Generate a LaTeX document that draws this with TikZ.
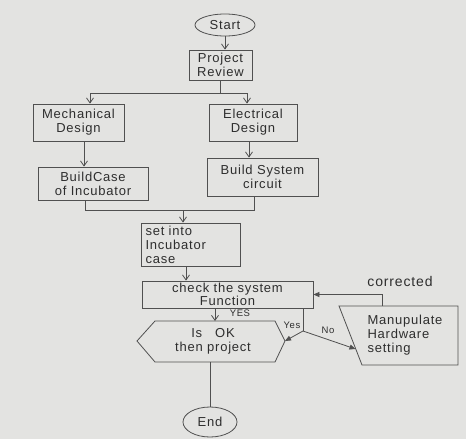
\documentclass[tikz,border=0pt]{standalone}
\usepackage{fontspec}
\setmainfont{Liberation Sans}
\newfontfamily\hand[LetterSpace=6]{Liberation Sans}
\usetikzlibrary{arrows.meta,shapes.geometric,calc}
\definecolor{paper}{HTML}{E3E3E1}
\definecolor{ink}{HTML}{505050}
\definecolor{pen}{HTML}{2E2E2E}
\begin{document}
\begin{tikzpicture}[x=1pt,y=-1pt, line width=0.8pt,
  box/.style={draw=ink, rectangle, inner sep=0pt, text=pen, font=\hand\fontsize{13}{14}\selectfont, align=center},
  txt/.style={text=pen, inner sep=0pt, font=\hand\fontsize{13}{14}\selectfont, align=center},
  small/.style={text=pen, inner sep=0pt, font=\hand\fontsize{9.5}{10}\selectfont},
  arr/.style={draw=ink, -{Straight Barb[length=5pt,width=7pt]}},
  tri/.style={draw=ink, -{Triangle[length=6pt,width=5pt]}},
  ln/.style={draw=ink}]
\fill[paper] (0,0) rectangle (466,439);
\useasboundingbox (0,0) rectangle (466,439);

% nodes
\node[box, ellipse, minimum width=60pt, minimum height=22pt] (start) at (225,25) {Start};
\node[box, minimum width=63pt, minimum height=30pt] (pr) at (220.5,65) {Project\\Review};
\node[box, minimum width=91pt, minimum height=37pt] (mech) at (78.5,122.5) {Mechanical\\Design};
\node[box, minimum width=88pt, minimum height=37pt] (elec) at (253,122.5) {Electrical\\Design};
\node[box, minimum width=110pt, minimum height=33pt] (bcase) at (93,183.5) {BuildCase\\of Incubator};
\node[box, minimum width=111pt, minimum height=38pt] (bsys) at (262.5,177) {Build System\\circuit};
\node[box, minimum width=99pt, minimum height=43pt, align=left, text width=90pt] (set) at (190.5,244.5) {set into\\Incubator\\case};
\node[box, minimum width=171pt, minimum height=27pt, font=\hand\fontsize{13}{12.5}\selectfont] (check) at (227.5,294.5) {check the system\\Function};

% decision hexagon
\draw[ln] (137,341) -- (155,321) -- (275,321) -- (285,341) -- (275,362) -- (155,362) -- cycle;
\node[txt] (ok) at (213,341) {Is\quad OK\\then project};
\coordinate (okT) at (215,321);
\coordinate (okR) at (285,341);
\coordinate (okB) at (208,362);

% manipulate block
\draw[ln] (339,306) -- (458,306) -- (458,365) -- (362,365) -- cycle;
\node[txt, align=left] (man) at (405,335) {Manupulate\\Hardware\\setting};
\coordinate (manL) at (355.5,349);
\coordinate (manT) at (382,306);

\node[box, ellipse, minimum width=54pt, minimum height=30pt] (end) at (210,422) {End};

% connectors
\draw[arr] (start.south) -- (start.south |- pr.north);
\coordinate (jl) at (90,93);
\coordinate (jr) at (247,93);
\draw[ln] (pr.south) -- (pr.south |- jl);
\draw[ln] (jl) -- (jr);
\draw[arr] (jl) -- (jl |- mech.north);
\draw[arr] (jr) -- (jr |- elec.north);
\draw[arr] ([xshift=5.5pt]mech.south) -- ([xshift=5.5pt]mech.south |- bcase.north);
\draw[arr] ([xshift=-4pt]elec.south) -- ([xshift=-4pt]elec.south |- bsys.north);
\coordinate (kl) at (85,210);
\coordinate (kr) at (254,210);
\coordinate (km) at (183,210);
\draw[ln] (bcase.south -| kl) -- (kl) -- (kr) -- (bsys.south -| kr);
\draw[arr] (km) -- (km |- set.north);
\draw[arr] ([xshift=-4.5pt]set.south) -- ([xshift=-4.5pt]set.south |- check.north);
\draw[arr] (check.south -| okT) -- (okT);
\node[small] (yes1) at (240,313) {YES};
\coordinate (br) at (303,331);
\draw[ln] (check.south -| br) -- (br);
\draw[tri] (br) -- (okR);
\draw[tri] (br) -- (manL);
\node[small] (yes2) at (292,325) {Yes};
\node[small] (no) at (328,330) {No};
\draw[tri] (manT) -- (manT |- check.east) -- (check.east);
\node[txt, font=\hand\fontsize{14}{15}\selectfont] (corr) at (400,281) {corrected};
\draw[ln] (end.north |- okB) -- (end.north);
\end{tikzpicture}
\end{document}
